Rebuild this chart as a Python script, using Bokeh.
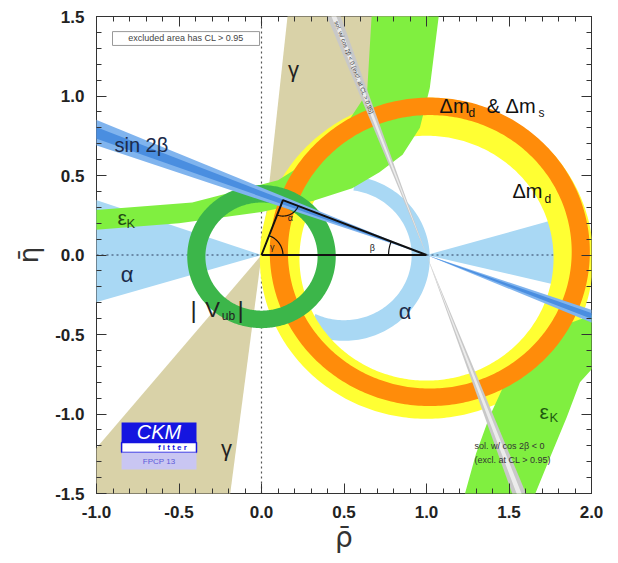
import numpy as np
from bokeh.plotting import figure
from bokeh.models import Range1d, LinearAxis, FixedTicker
from bokeh.embed import file_html
from bokeh.resources import INLINE
from bokeh.core.properties import value

# ---------------- axis ticks ----------------
x_ticks = [-1.0, -0.5, 0.0, 0.5, 1.0, 1.5, 2.0]
x_tick_labels = ["-1.0", "-0.5", "0.0", "0.5", "1.0", "1.5", "2.0"]
y_ticks = [-1.5, -1.0, -0.5, 0.0, 0.5, 1.0, 1.5]
y_tick_labels = ["-1.5", "-1.0", "-0.5", "0.0", "0.5", "1.0", "1.5"]
x_title = "ρ̄"
y_title = "η̄"

# ---------------- fitted triangle ----------------
apex_rho = 0.13
apex_eta = 0.345

# ---------------- constraints ----------------
vub_center = [0.0, -0.01]
vub_radii = [0.34, 0.45]
dmd_center = [1.0, -0.02]
dmd_radii = [0.77, 1.01]
dms_center = [1.02, 0.02]
dms_radii = [0.86, 0.97]
gamma_upper_deg = [56.0, 84.0]
gamma_lower_deg = [230.5, 262.8]
s2b_center_deg = [159.0, 339.0]
s2b_half_outer = 2.0
s2b_half_inner = 0.9
c2b_center_deg = [110.5, 290.5]
c2b_half_outer = 1.4
c2b_half_inner = 0.5
alpha_left_deg = [161.0, 196.5]
alpha_right_deg = [-13.5, 16.0]
alpha_outer_circle = [0.50, -0.02, 0.52]
alpha_inner_circle = [0.50, 0.00, 0.41]
alpha_arc_deg = [82.0, -115.0]
epsk_up_low_rho = [-1.05, -0.5, 0.0, 0.31, 0.55, 0.715, 0.855, 0.96, 1.02, 1.08]
epsk_up_low_eta = [0.155, 0.20, 0.27, 0.34, 0.42, 0.52, 0.63, 0.80, 1.05, 1.55]
epsk_up_high_rho = [0.67, 0.64, 0.50, 0.30, 0.10, -0.42, -1.05]
epsk_up_high_eta = [1.55, 1.02, 0.80, 0.60, 0.47, 0.33, 0.28]
epsk_lo_in_rho = [1.22, 1.30, 1.38, 1.485, 1.678, 1.825, 2.05]
epsk_lo_in_eta = [-1.55, -1.25, -1.02, -0.785, -0.638, -0.445, -0.36]
epsk_lo_out_rho = [2.05, 2.0, 1.93, 1.85, 1.75, 1.64]
epsk_lo_out_eta = [-0.66, -0.72, -0.80, -1.02, -1.27, -1.55]

# ---------------- colours ----------------
c_tan = "#d9d2a8"
c_alpha = "#a9d8f4"
c_yellow = "#ffff33"
c_epsk = "#80ef40"
c_orange = "#ff8c0a"
c_vub = "#3cb64a"
c_s2b_out = "#80b4ee"
c_s2b_in = "#4a8ee0"
c_grey = "#c8c8c8"
c_grey_in = "#ececec"

FONT = "Liberation Sans"

p = figure(frame_width=495, frame_height=477,
           x_range=Range1d(-1.0, 2.0), y_range=Range1d(-1.5, 1.5),
           output_backend="svg", toolbar_location=None,
           min_border_left=96, min_border_right=16,
           min_border_top=16, min_border_bottom=62,
           background_fill_color="white", border_fill_color="white")
p.xgrid.visible = False
p.ygrid.visible = False
p.outline_line_color = "#333333"
p.outline_line_width = 1
bottom_ax = p.below[0]
left_ax = p.left[0]


def wedge(cx, cy, a0, a1, R=4.0, n=80):
    th = np.radians(np.linspace(a0, a1, n))
    return [cx] + list(cx + R * np.cos(th)), [cy] + list(cy + R * np.sin(th))


def ring(c, radii, n=361):
    th = np.linspace(0, 2 * np.pi, n)
    ox = list(c[0] + radii[1] * np.cos(th))
    oy = list(c[1] + radii[1] * np.sin(th))
    ix = list(c[0] + radii[0] * np.cos(th[::-1]))
    iy = list(c[1] + radii[0] * np.sin(th[::-1]))
    return [[[ox, ix]]], [[[oy, iy]]]


for a in (gamma_upper_deg, gamma_lower_deg):
    xs, ys = wedge(0.0, 0.0, a[0], a[1])
    p.patch(xs, ys, fill_color=c_tan, line_color=None)

xs, ys = wedge(0.0, 0.0, alpha_left_deg[0], alpha_left_deg[1], R=2.0)
p.patch(xs, ys, fill_color=c_alpha, line_color=None)
xs, ys = wedge(1.0, 0.0, alpha_right_deg[0], alpha_right_deg[1], R=0.95)
p.patch(xs, ys, fill_color=c_alpha, line_color=None)
th = np.radians(np.linspace(alpha_arc_deg[0], alpha_arc_deg[1], 120))
oc, ic = alpha_outer_circle, alpha_inner_circle
cx = list(oc[0] + oc[2] * np.cos(th)) + list(ic[0] + ic[2] * np.cos(th[::-1]))
cy = list(oc[1] + oc[2] * np.sin(th)) + list(ic[1] + ic[2] * np.sin(th[::-1]))
p.patch(cx, cy, fill_color=c_alpha, line_color=None)

p.line([-1.0, 2.0], [0.0, 0.0], line_color="#56708f", line_dash="2 3", line_width=1.6)
p.line([0.0, 0.0], [-1.5, 1.5], line_color="#555555", line_dash="2 3", line_width=1.2)

xs, ys = ring(dmd_center, dmd_radii)
p.multi_polygons(xs=xs, ys=ys, fill_color=c_yellow, line_color=None)

p.patch(epsk_up_low_rho + epsk_up_high_rho, epsk_up_low_eta + epsk_up_high_eta,
        fill_color=c_epsk, line_color=None)
p.patch(epsk_lo_in_rho + epsk_lo_out_rho, epsk_lo_in_eta + epsk_lo_out_eta,
        fill_color=c_epsk, line_color=None)

xs, ys = ring(dms_center, dms_radii)
p.multi_polygons(xs=xs, ys=ys, fill_color=c_orange, line_color=None)

xs, ys = ring(vub_center, vub_radii)
p.multi_polygons(xs=xs, ys=ys, fill_color=c_vub, line_color=None)

for c in s2b_center_deg:
    xs, ys = wedge(1.0, 0.0, c - s2b_half_outer, c + s2b_half_outer)
    p.patch(xs, ys, fill_color=c_s2b_out, line_color=None)
    xs, ys = wedge(1.0, 0.0, c - s2b_half_inner, c + s2b_half_inner)
    p.patch(xs, ys, fill_color=c_s2b_in, line_color=None)

for c in c2b_center_deg:
    xs, ys = wedge(1.0, 0.0, c - c2b_half_outer, c + c2b_half_outer)
    p.patch(xs, ys, fill_color=c_grey, line_color=None)
    xs, ys = wedge(1.0, 0.0, c - c2b_half_inner, c + c2b_half_inner)
    p.patch(xs, ys, fill_color=c_grey_in, line_color=None)

p.line([0.0, 1.0, apex_rho, 0.0], [0.0, 0.0, apex_eta, 0.0],
       line_color="#111111", line_width=2)
g_ang = np.degrees(np.arctan2(apex_eta, apex_rho))
b_ang = np.degrees(np.arctan2(apex_eta, apex_rho - 1.0))
t = np.radians(np.linspace(0, g_ang, 30))
p.line(list(0.13 * np.cos(t)), list(0.13 * np.sin(t)), line_color="#111111", line_width=1.2)
t = np.radians(np.linspace(b_ang, 180, 20))
p.line(list(1 + 0.23 * np.cos(t)), list(0.23 * np.sin(t)), line_color="#111111", line_width=1.2)
t = np.radians(np.linspace(g_ang - 180, b_ang - 180, 30))
p.line(list(apex_rho + 0.1 * np.cos(t)), list(apex_eta + 0.1 * np.sin(t)),
       line_color="#111111", line_width=1.2)


def txt(x, y, s, size, color="#1a1a2a", align="left", style="normal", angle=0.0,
        font=FONT):
    p.text(x=[x], y=[y], text=[s], text_font=value(font), text_font_size=size,
           text_color=color, text_align=align, text_baseline="middle",
           text_font_style=style, angle=angle, angle_units="deg")


txt(0.065, 0.05, "γ", "9px", "#222222", "center")
txt(0.175, 0.235, "α", "9px", "#222222", "center")
txt(0.672, 0.047, "β", "9px", "#222222", "center")

txt(0.194, 1.167, "γ", "22px", "#222222", "center")
txt(-0.212, -1.217, "γ", "22px", "#222222", "center")
txt(-0.891, 0.694, "sin 2β", "20px", "#1b2a4a")
txt(-0.873, 0.236, "ε", "21px", "#234a14")
txt(-0.818, 0.196, "K", "13px", "#234a14")
txt(1.685, -0.984, "ε", "21px", "#1e5a10")
txt(1.745, -1.024, "K", "13px", "#1e5a10")
txt(-0.815, -0.123, "α", "22px", "#1b2a4a", "center")
txt(0.870, -0.355, "α", "22px", "#1b2a4a", "center")
txt(-0.412, -0.343, "|", "24px", "#222222", "center")
txt(-0.297, -0.343, "V", "22px", "#222222", "center")
txt(-0.200, -0.385, "ub", "12px", "#222222", "center")
txt(-0.127, -0.343, "|", "24px", "#222222", "center")
txt(1.079, 0.940, "Δm", "20px", "#111111")
txt(1.255, 0.896, "d", "12px", "#111111")
txt(1.406, 0.940, "&", "20px", "#111111", "center")
txt(1.479, 0.940, "Δm", "20px", "#111111")
txt(1.679, 0.896, "s", "12px", "#111111")
txt(1.521, 0.405, "Δm", "20px", "#111111")
txt(1.715, 0.355, "d", "12px", "#111111")

txt(0.452, 1.47, "sol. w/ cos 2β < 0 (excl. at CL > 0.95)", "6px", "#333333",
    angle=-68.8)
txt(1.291, -1.200, "sol. w/ cos 2β < 0", "9px", "#333333")
txt(1.291, -1.290, "(excl. at CL > 0.95)", "9px", "#333333")

p.quad(left=[-0.903], right=[-0.012], bottom=[1.318], top=[1.405],
       fill_color="white", line_color="#999999", line_width=1)
txt(-0.4575, 1.362, "excluded area has CL > 0.95", "9px", "#444444", "center")

p.quad(left=[-0.848], right=[-0.394], bottom=[-1.179], top=[-1.053],
       fill_color="#1515e0", line_color=None)
p.quad(left=[-0.848], right=[-0.394], bottom=[-1.242], top=[-1.179],
       fill_color="white", line_color="#1515e0", line_width=1.5)
p.quad(left=[-0.848], right=[-0.394], bottom=[-1.349], top=[-1.242],
       fill_color="#c9c6f2", line_color=None)
txt(-0.621, -1.113, "CKM", "20px", "white", "center", "italic")
txt(-0.540, -1.211, "f i t t e r", "8px", "#1515e0", "center", "bold")
txt(-0.621, -1.296, "FPCP 13", "8px", "#5a5ad8", "center")

minor_x = [round(v, 2) for v in np.arange(-1.0, 2.0001, 0.1)]
minor_y = [round(v, 2) for v in np.arange(-1.5, 1.5001, 0.1)]


def style_axis(ax, ticks, labels, minor, show):
    ax.ticker = FixedTicker(ticks=ticks, minor_ticks=minor)
    ax.major_tick_in = 10
    ax.major_tick_out = 0
    ax.minor_tick_in = 5
    ax.minor_tick_out = 0
    ax.axis_line_color = None
    ax.major_tick_line_color = "#333333"
    ax.minor_tick_line_color = "#333333"
    ax.major_tick_line_width = 1
    ax.minor_tick_line_width = 1
    if show:
        ax.major_label_overrides = {t: l for t, l in zip(ticks, labels)}
        ax.major_label_text_font = FONT
        ax.major_label_text_font_size = "17px"
        ax.major_label_text_font_style = "bold"
        ax.major_label_text_color = "#222222"
        ax.major_label_standoff = 12
    else:
        ax.major_label_overrides = {t: "" for t in ticks}
        ax.major_label_text_font_size = "1px"
        ax.major_label_standoff = 0


style_axis(bottom_ax, x_ticks, x_tick_labels, minor_x, True)
style_axis(left_ax, y_ticks, y_tick_labels, minor_y, True)
top_ax = LinearAxis()
right_ax = LinearAxis()
style_axis(top_ax, x_ticks, x_tick_labels, minor_x, False)
style_axis(right_ax, y_ticks, y_tick_labels, minor_y, False)
p.add_layout(top_ax, "above")
p.add_layout(right_ax, "right")

# axis titles
bottom_ax.axis_label = x_title
bottom_ax.axis_label_text_font = "DejaVu Sans"
bottom_ax.axis_label_text_font_size = "28px"
bottom_ax.axis_label_text_font_style = "normal"
bottom_ax.axis_label_text_color = "#333333"
bottom_ax.axis_label_standoff = 0
left_ax.axis_label = y_title
left_ax.axis_label_text_font = "DejaVu Sans"
left_ax.axis_label_text_font_size = "26px"
left_ax.axis_label_text_font_style = "normal"
left_ax.axis_label_text_color = "#333333"
left_ax.axis_label_standoff = 8

open("out.html", "w").write(file_html(p, INLINE))
